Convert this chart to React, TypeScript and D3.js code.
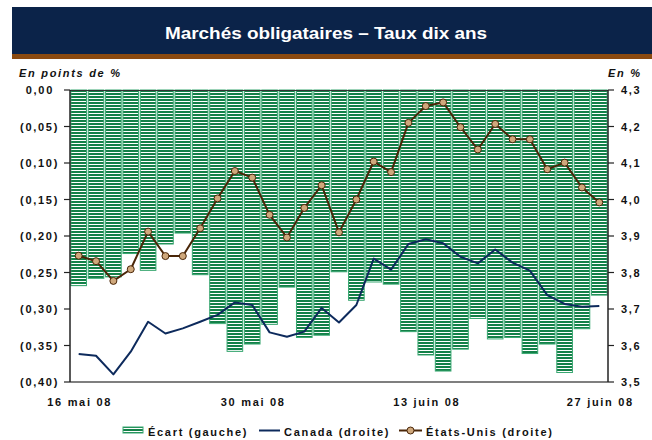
import React, { useEffect } from "react";
import * as d3 from "d3";

const dates = [
  "16 mai 08", "19 mai 08", "20 mai 08", "21 mai 08", "22 mai 08", "23 mai 08",
  "26 mai 08", "27 mai 08", "28 mai 08", "29 mai 08", "30 mai 08",
  "2 juin 08", "3 juin 08", "4 juin 08", "5 juin 08", "6 juin 08",
  "9 juin 08", "10 juin 08", "11 juin 08", "12 juin 08", "13 juin 08",
  "16 juin 08", "17 juin 08", "18 juin 08", "19 juin 08", "20 juin 08",
  "23 juin 08", "24 juin 08", "25 juin 08", "26 juin 08", "27 juin 08",
];
const shownDates = ["16 mai 08", "30 mai 08", "13 juin 08", "27 juin 08"];

const ecart = [
  -0.268, -0.258, -0.256, -0.224, -0.247, -0.211, -0.196, -0.253, -0.32, -0.358,
  -0.348, -0.321, -0.27, -0.339, -0.336, -0.249, -0.288, -0.263, -0.266, -0.331,
  -0.363, -0.385, -0.355, -0.313, -0.341, -0.339, -0.361, -0.348, -0.387, -0.327,
  -0.281,
];
const canada = [
  3.577, 3.572, 3.521, 3.583, 3.665, 3.633, 3.647, 3.665, 3.684, 3.718, 3.711,
  3.636, 3.624, 3.638, 3.703, 3.663, 3.711, 3.838, 3.808, 3.878, 3.891, 3.88,
  3.843, 3.825, 3.863, 3.827, 3.805, 3.738, 3.714, 3.706, 3.708,
];
const etatsUnis = [
  3.846, 3.831, 3.777, 3.809, 3.912, 3.845, 3.845, 3.921, 4.003, 4.078, 4.06,
  3.958, 3.896, 3.977, 4.039, 3.91, 4.0, 4.104, 4.075, 4.21, 4.256, 4.266,
  4.198, 4.137, 4.207, 4.165, 4.165, 4.083, 4.101, 4.033, 3.992,
];
const leftTicks = [0, -0.05, -0.1, -0.15, -0.2, -0.25, -0.3, -0.35, -0.4];
const rightTicks = [4.3, 4.2, 4.1, 4.0, 3.9, 3.8, 3.7, 3.6, 3.5];

const W = 652;
const H = 440;
const L = 70, R = 608, T = 90, B = 382;

const NAVY = "#0b2349";
const BROWN_BAR = "#8b4a10";
const GREEN = "#138048";
const GREEN_EDGE = "#3aa872";
const CAN = "#0d2a5c";
const US_LINE = "#4a2608";
const US_FILL = "#cfa87c";
const FONT = "'Liberation Sans', Arial, sans-serif";

const fmtL = (v: number) => {
  const s = Math.abs(v).toFixed(2).replace(".", ",");
  return v < 0 ? `(${s})` : s;
};
const fmtR = (v: number) => v.toFixed(1).replace(".", ",");

export default function App() {
  useEffect(() => {
    document.body.style.margin = "0";
  }, []);

  const x = d3
    .scaleBand<number>()
    .domain(d3.range(dates.length))
    .range([L, R])
    .paddingInner(0.1)
    .paddingOuter(0.05);
  const yL = d3.scaleLinear().domain([-0.4, 0]).range([B, T]);
  const yR = d3.scaleLinear().domain([3.5, 4.3]).range([B, T]);
  const cx = (i: number) => (x(i) as number) + x.bandwidth() / 2;

  const line = d3
    .line<number>()
    .x((_, i) => cx(i))
    .y((d) => yR(d));

  const txt = {
    fontFamily: FONT,
    fontWeight: 700,
    fontSize: 11,
    letterSpacing: 1.7,
    fill: "#111",
  } as const;

  return (
    <svg width={W} height={H} style={{ display: "block" }}>
      <defs>
        <pattern id="stripes" patternUnits="userSpaceOnUse" width={6} height={3}>
          <rect x={0} y={0} width={6} height={3} fill="#ffffff" shapeRendering="crispEdges" />
          <rect x={0} y={0} width={6} height={2} fill={GREEN} shapeRendering="crispEdges" />
        </pattern>
      </defs>
      <rect x={0} y={0} width={W} height={H} fill="#fff" />

      {/* banner */}
      <rect x={12} y={7} width={W - 12} height={47} fill={NAVY} />
      <rect x={12} y={54} width={W - 12} height={5} fill={BROWN_BAR} />
      <text
        x={326}
        y={39}
        textAnchor="middle"
        fill="#fff"
        fontFamily={FONT}
        fontWeight={700}
        fontSize={16}
        textLength={322}
        lengthAdjust="spacingAndGlyphs"
      >
        Marchés obligataires – Taux dix ans
      </text>

      <text x={19} y={77} {...txt} fontStyle="italic">
        En points de %
      </text>
      <text x={608} y={77} {...txt} fontStyle="italic">
        En %
      </text>

      {/* bars */}
      {ecart.map((v, i) => (
        <rect
          key={i}
          x={x(i)}
          y={yL(0)}
          width={x.bandwidth()}
          height={yL(v) - yL(0)}
          fill="url(#stripes)"
          stroke={GREEN_EDGE}
          strokeWidth={1}
        />
      ))}

      {/* Canada */}
      <path d={line(canada) || ""} fill="none" stroke={CAN} strokeWidth={2} strokeLinejoin="round" />

      {/* États-Unis */}
      <path d={line(etatsUnis) || ""} fill="none" stroke={US_LINE} strokeWidth={2} strokeLinejoin="round" />
      {etatsUnis.map((v, i) => (
        <circle key={i} cx={cx(i)} cy={yR(v)} r={3.5} fill={US_FILL} stroke={US_LINE} strokeWidth={1} />
      ))}

      {/* axes */}
      <line x1={L} x2={R} y1={T + 0.5} y2={T + 0.5} stroke="#333" strokeWidth={1} />
      <line x1={L} x2={R} y1={B} y2={B} stroke="#555" strokeWidth={1.5} />
      <line x1={L} x2={L} y1={T} y2={B} stroke="#222" strokeWidth={1.5} />
      <line x1={R} x2={R} y1={T} y2={B} stroke="#222" strokeWidth={1.5} />
      {leftTicks.map((t) => (
        <g key={"l" + t}>
          <line x1={L - 6} x2={L} y1={yL(t)} y2={yL(t)} stroke="#222" strokeWidth={1.2} />
          <text x={t < 0 ? 59 : 54} y={yL(t) + 4} textAnchor="end" {...txt}>
            {fmtL(t)}
          </text>
        </g>
      ))}
      {rightTicks.map((t) => (
        <g key={"r" + t}>
          <line x1={R} x2={R + 6} y1={yR(t)} y2={yR(t)} stroke="#222" strokeWidth={1.2} />
          <text x={621} y={yR(t) + 4} {...txt}>
            {fmtR(t)}
          </text>
        </g>
      ))}
      {shownDates.map((d) => {
        const i = dates.indexOf(d);
        return (
          <text key={d} x={cx(i) + 1} y={406} textAnchor="middle" {...txt}>
            {d}
          </text>
        );
      })}

      {/* legend */}
      <rect x={123} y={427} width={20} height={6} fill="url(#stripes)" stroke={GREEN_EDGE} strokeWidth={1} />
      <text x={148} y={436} {...txt}>
        Écart (gauche)
      </text>
      <line x1={259} x2={280} y1={430.5} y2={430.5} stroke={CAN} strokeWidth={2} />
      <text x={284} y={436} {...txt}>
        Canada (droite)
      </text>
      <line x1={399} x2={422} y1={430.5} y2={430.5} stroke={US_LINE} strokeWidth={2} />
      <circle cx={410.5} cy={430.5} r={3.5} fill={US_FILL} stroke={US_LINE} strokeWidth={1} />
      <text x={426} y={436} {...txt}>
        États-Unis (droite)
      </text>
    </svg>
  );
}
